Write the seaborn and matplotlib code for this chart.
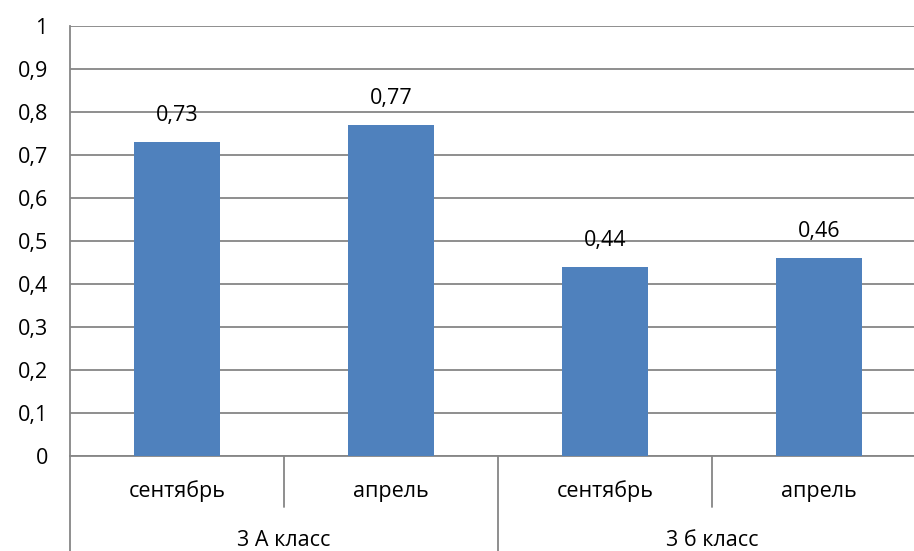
import pandas as pd
import matplotlib.pyplot as plt
import matplotlib.transforms as mtransforms
import seaborn as sns

# data
groups = ["3 А класс", "3 А класс", "3 б класс", "3 б класс"]
months = ["сентябрь", "апрель", "сентябрь", "апрель"]
values = [0.73, 0.77, 0.44, 0.46]
group_names = ["3 А класс", "3 б класс"]
yticks = [0, 0.1, 0.2, 0.3, 0.4, 0.5, 0.6, 0.7, 0.8, 0.9, 1]

df = pd.DataFrame({"key": [f"{g} {m}" for g, m in zip(groups, months)],
                   "value": values})

sns.set_style("white")
plt.rcParams["font.family"] = ["Open Sans", "DejaVu Sans"]
plt.rcParams["text.color"] = "black"
FS = 15.5
GRID = "#868686"

fig = plt.figure(figsize=(9.14, 5.51), dpi=100)
W, H = 914, 551
ax = fig.add_axes([70 / W, 95 / H, (W - 70) / W, 430 / H])

sns.barplot(data=df, x="key", y="value", color="#4F81BD", width=0.4,
            saturation=1, linewidth=0, ax=ax, zorder=3)

ax.set_ylim(0, 1)
ax.set_xlim(-0.5, 3.5 - 12 / 214)
ax.set_yticks(yticks)
ax.set_yticklabels([("%g" % t).replace(".", ",") for t in yticks], fontsize=FS, color="black")
ax.grid(axis="y", color=GRID, linewidth=1.3, zorder=0)
ax.set_xlabel("")
ax.set_ylabel("")
ax.set_xticks([])

for s in ["top", "right"]:
    ax.spines[s].set_visible(False)
for s in ["left", "bottom"]:
    ax.spines[s].set_color(GRID)
    ax.spines[s].set_linewidth(1.3)
ax.tick_params(axis="y", length=6, width=1.3, color=GRID, pad=10)

# value labels
for i, v in enumerate(values):
    ax.annotate(("%.2f" % v).replace(".", ","), (i, v), xytext=(0, 19),
                textcoords="offset points", ha="center", va="center", fontsize=FS)

# multi-level category axis
xfig = mtransforms.blended_transform_factory(ax.transData, fig.transFigure)
xaxes = mtransforms.blended_transform_factory(ax.transData, ax.transAxes)
for i, m in enumerate(months):
    fig.text(i, (551 - 491) / H, m, transform=xfig, fontsize=FS, ha="center", va="center")
for b in [0.5, 2.5]:
    ax.plot([b, b], [0, -51 / 430], transform=xaxes, color=GRID, linewidth=1.3, clip_on=False)
for b in [-0.5, 1.5]:
    ax.plot([b, b], [0, -100 / 430], transform=xaxes, color=GRID, linewidth=1.3, clip_on=False)
for j, g in enumerate(group_names):
    fig.text(2 * j + 0.5, (551 - 540) / H, g, transform=xfig, fontsize=FS, ha="center", va="center")

fig.savefig("out.png", dpi=100)
